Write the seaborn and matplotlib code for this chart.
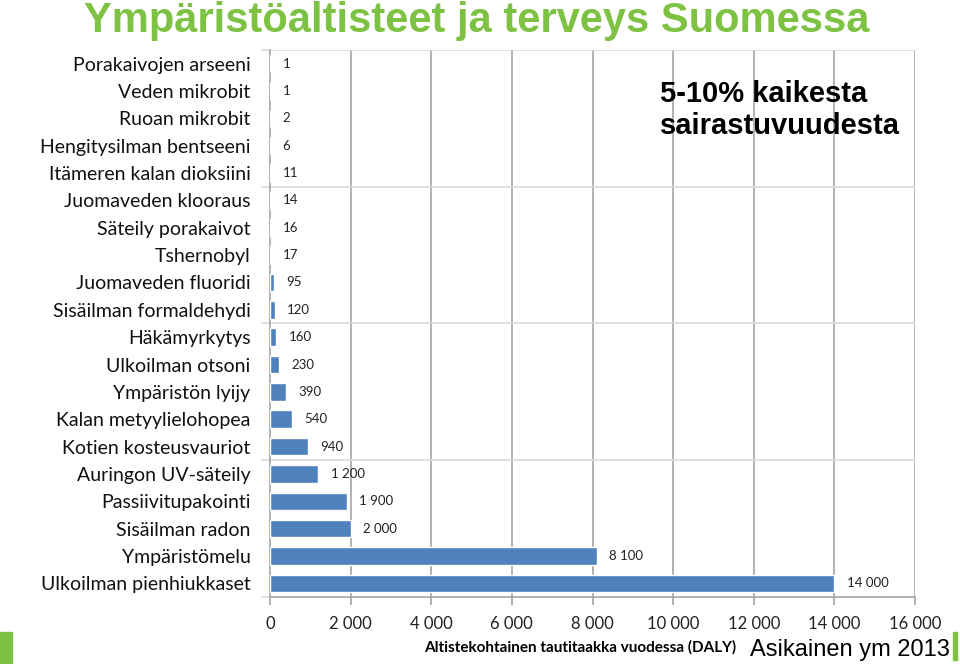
import matplotlib
matplotlib.use("Agg")
import matplotlib.pyplot as plt
import seaborn as sns
import pandas as pd
from matplotlib.patches import Rectangle
from matplotlib.ticker import FuncFormatter

categories = [
    "Porakaivojen arseeni", "Veden mikrobit", "Ruoan mikrobit", "Hengitysilman bentseeni",
    "Itämeren kalan dioksiini", "Juomaveden klooraus", "Säteily porakaivot", "Tshernobyl",
    "Juomaveden fluoridi", "Sisäilman formaldehydi", "Häkämyrkytys", "Ulkoilman otsoni",
    "Ympäristön lyijy", "Kalan metyylielohopea", "Kotien kosteusvauriot", "Auringon UV-säteily",
    "Passiivitupakointi", "Sisäilman radon", "Ympäristömelu", "Ulkoilman pienhiukkaset",
]
values = [1, 1, 2, 6, 11, 14, 16, 17, 95, 120, 160, 230, 390, 540, 940, 1200, 1900, 2000, 8100, 14000]
xticks = [0, 2000, 4000, 6000, 8000, 10000, 12000, 14000, 16000]

title = "Ympäristöaltisteet ja terveys Suomessa"
note = "5-10% kaikesta\nsairastuvuudesta"
xlabel = "Altistekohtainen tautitaakka vuodessa (DALY)"
source = "Asikainen ym 2013"

df = pd.DataFrame({"cat": categories, "val": values})

sns.set_theme(style="white")
plt.rcParams["font.family"] = ["Lato", "DejaVu Sans"]

fig = plt.figure(figsize=(9.6, 6.64), dpi=100)
ax = fig.add_axes([270/960, 1-597/664, (915-270)/960, (597-50)/664])

sns.barplot(data=df, x="val", y="cat", orient="h", color="#4f81bd", saturation=1,
            width=0.64, ax=ax, zorder=3)

ax.set_xlim(0, 16000)
ax.set_ylim(19.5, -0.5)
ax.set_xticks(xticks)
ax.xaxis.set_major_formatter(FuncFormatter(lambda v, p: f"{int(v):,}".replace(",", " ")))
for x in xticks[1:]:
    ax.axvline(x, color="#a6a6a6", lw=1.2, zorder=1)
for y in [-0.5, 4.5, 9.5, 14.5]:
    ax.axhline(y, color="#d9d9d9", lw=1.2, zorder=1)

for s in ["top", "right"]:
    ax.spines[s].set_visible(False)
ax.spines["left"].set_color("#a6a6a6")
ax.spines["bottom"].set_color("#a6a6a6")
ax.spines["left"].set_linewidth(1.2)
ax.spines["bottom"].set_linewidth(1.2)

ax.tick_params(axis="x", bottom=True, length=6, color="#a6a6a6", labelsize=12, pad=8,
               labelcolor="#222222")
ax.tick_params(axis="y", left=False, length=0, labelsize=14, pad=14, labelcolor="#111111")
ax.set_yticks(range(len(categories)))
ax.set_yticklabels(categories)
for y in [-0.5, 4.5, 9.5, 14.5, 19.5]:
    ax.plot([-0.012, 0], [y, y], transform=ax.get_yaxis_transform(), color="#d9d9d9",
            lw=1.2, clip_on=False)
ax.set_xlabel("")
ax.set_ylabel("")

for i, v in enumerate(values):
    ax.annotate(f"{v:,}".replace(",", " "), (v, i), xytext=(9, 0), textcoords="offset points",
                va="center", ha="left", fontsize=9.5, color="#222222")

fig.text(477/960, 1-21/664, title, ha="center", va="center", fontsize=30, fontweight="bold",
         color="#7dc242", family=["Liberation Sans", "DejaVu Sans"])
fig.text(660/960, 1-110/664, note, ha="left", va="center", fontsize=21, fontweight="bold",
         color="black", family=["Liberation Sans", "DejaVu Sans"], linespacing=1.15, zorder=10)
fig.text(580/960, 1-647/664, xlabel, ha="center", va="center", fontsize=11, fontweight="bold",
         color="black")
fig.text(950/960, 1-650/664, source, ha="right", va="center", fontsize=17,
         color="black", family=["Liberation Sans", "DejaVu Sans"])

fig.patches.append(Rectangle((0, 0), 12/960, 32/664, transform=fig.transFigure,
                             color="#7dc242", zorder=5))
fig.patches.append(Rectangle((953/960, 4/664), 4/960, 28/664, transform=fig.transFigure,
                             color="#7dc242", zorder=5))

fig.savefig("out.png", dpi=100)
